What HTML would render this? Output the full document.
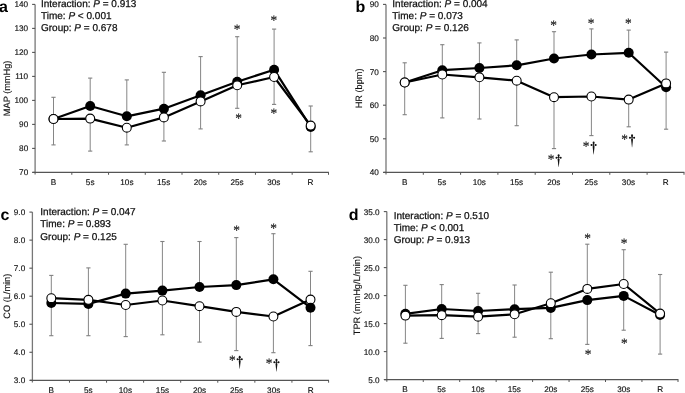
<!DOCTYPE html>
<html><head><meta charset="utf-8"><style>
html,body{margin:0;padding:0;background:#fff;width:685px;height:393px;overflow:hidden}
svg{display:block;will-change:transform}
text{font-family:"Liberation Sans", sans-serif;fill:#111;text-rendering:geometricPrecision}
.tk{font-size:8.2px;stroke:#111;stroke-width:0.15px}
.ti{font-size:9.2px;stroke:#111;stroke-width:0.15px}
.st{font-size:10px;fill:#111;stroke:#111;stroke-width:0.25px}
.lt{font-size:16px;font-weight:bold;fill:#000}
.ast{font-size:14.5px;fill:#1a1a1a;stroke:#1a1a1a;stroke-width:0.18px;font-family:"Liberation Serif",serif}
.dag{font-size:15px;fill:#111;stroke:#111;stroke-width:0.3px;font-family:"Liberation Serif",serif}
</style></head><body>
<svg width="685" height="393" viewBox="0 0 685 393">
<rect width="685" height="393" fill="#fff"/>
<line x1="35.1" y1="4.4" x2="35.1" y2="174.6" stroke="#777" stroke-width="1.3"/>
<line x1="32.1" y1="172.40" x2="35.1" y2="172.40" stroke="#555" stroke-width="1.1"/>
<text x="28.2" y="175.40" text-anchor="end" class="tk">70</text>
<line x1="32.1" y1="148.40" x2="35.1" y2="148.40" stroke="#555" stroke-width="1.1"/>
<text x="28.2" y="151.40" text-anchor="end" class="tk">80</text>
<line x1="32.1" y1="124.40" x2="35.1" y2="124.40" stroke="#555" stroke-width="1.1"/>
<text x="28.2" y="127.40" text-anchor="end" class="tk">90</text>
<line x1="32.1" y1="100.40" x2="35.1" y2="100.40" stroke="#555" stroke-width="1.1"/>
<text x="28.2" y="103.40" text-anchor="end" class="tk">100</text>
<line x1="32.1" y1="76.40" x2="35.1" y2="76.40" stroke="#555" stroke-width="1.1"/>
<text x="28.2" y="79.40" text-anchor="end" class="tk">110</text>
<line x1="32.1" y1="52.40" x2="35.1" y2="52.40" stroke="#555" stroke-width="1.1"/>
<text x="28.2" y="55.40" text-anchor="end" class="tk">120</text>
<line x1="32.1" y1="28.40" x2="35.1" y2="28.40" stroke="#555" stroke-width="1.1"/>
<text x="28.2" y="31.40" text-anchor="end" class="tk">130</text>
<line x1="32.1" y1="4.40" x2="35.1" y2="4.40" stroke="#555" stroke-width="1.1"/>
<text x="28.2" y="7.40" text-anchor="end" class="tk">140</text>
<line x1="32.6" y1="172.4" x2="328.9" y2="172.4" stroke="#555" stroke-width="1.3"/>
<line x1="71.82" y1="172.4" x2="71.82" y2="174.8" stroke="#555" stroke-width="1.0"/>
<line x1="108.55" y1="172.4" x2="108.55" y2="174.8" stroke="#555" stroke-width="1.0"/>
<line x1="145.27" y1="172.4" x2="145.27" y2="174.8" stroke="#555" stroke-width="1.0"/>
<line x1="182.00" y1="172.4" x2="182.00" y2="174.8" stroke="#555" stroke-width="1.0"/>
<line x1="218.72" y1="172.4" x2="218.72" y2="174.8" stroke="#555" stroke-width="1.0"/>
<line x1="255.45" y1="172.4" x2="255.45" y2="174.8" stroke="#555" stroke-width="1.0"/>
<line x1="292.17" y1="172.4" x2="292.17" y2="174.8" stroke="#555" stroke-width="1.0"/>
<line x1="328.50" y1="172.4" x2="328.50" y2="174.8" stroke="#555" stroke-width="1.0"/>
<text x="53.46" y="184.70" text-anchor="middle" class="tk">B</text>
<text x="90.19" y="184.70" text-anchor="middle" class="tk">5s</text>
<text x="126.91" y="184.70" text-anchor="middle" class="tk">10s</text>
<text x="163.64" y="184.70" text-anchor="middle" class="tk">15s</text>
<text x="200.36" y="184.70" text-anchor="middle" class="tk">20s</text>
<text x="237.09" y="184.70" text-anchor="middle" class="tk">25s</text>
<text x="273.81" y="184.70" text-anchor="middle" class="tk">30s</text>
<text x="310.54" y="184.70" text-anchor="middle" class="tk">R</text>
<text transform="translate(9.6,88.4) rotate(-90)" text-anchor="middle" class="ti">MAP (mmHg)</text>
<text x="-1.0" y="11.7" class="lt">a</text>
<text x="41.0" y="7.00" class="st">Interaction: <tspan font-style="italic">P</tspan> = 0.913</text>
<text x="41.0" y="19.10" class="st">Time: <tspan font-style="italic">P</tspan> &lt; 0.001</text>
<text x="41.0" y="31.20" class="st">Group: <tspan font-style="italic">P</tspan> = 0.678</text>
<line x1="53.5" y1="97.3" x2="53.5" y2="119.0" stroke="#808080" stroke-width="0.95"/>
<line x1="53.5" y1="119.0" x2="53.5" y2="144.9" stroke="#808080" stroke-width="0.95"/>
<line x1="51.4" y1="97.3" x2="55.6" y2="97.3" stroke="#808080" stroke-width="1.1"/>
<line x1="51.4" y1="144.9" x2="55.6" y2="144.9" stroke="#808080" stroke-width="1.1"/>
<line x1="90.2" y1="78.1" x2="90.2" y2="106.0" stroke="#808080" stroke-width="0.95"/>
<line x1="90.2" y1="118.6" x2="90.2" y2="151.1" stroke="#808080" stroke-width="0.95"/>
<line x1="88.10000000000001" y1="78.1" x2="92.3" y2="78.1" stroke="#808080" stroke-width="1.1"/>
<line x1="88.10000000000001" y1="151.1" x2="92.3" y2="151.1" stroke="#808080" stroke-width="1.1"/>
<line x1="126.8" y1="79.9" x2="126.8" y2="116.3" stroke="#808080" stroke-width="0.95"/>
<line x1="126.8" y1="127.7" x2="126.8" y2="144.9" stroke="#808080" stroke-width="0.95"/>
<line x1="124.7" y1="79.9" x2="128.9" y2="79.9" stroke="#808080" stroke-width="1.1"/>
<line x1="124.7" y1="144.9" x2="128.9" y2="144.9" stroke="#808080" stroke-width="1.1"/>
<line x1="163.89999999999998" y1="72.3" x2="163.89999999999998" y2="108.7" stroke="#808080" stroke-width="0.95"/>
<line x1="163.89999999999998" y1="117.4" x2="163.89999999999998" y2="141.0" stroke="#808080" stroke-width="0.95"/>
<line x1="161.79999999999998" y1="72.3" x2="165.99999999999997" y2="72.3" stroke="#808080" stroke-width="1.1"/>
<line x1="161.79999999999998" y1="141.0" x2="165.99999999999997" y2="141.0" stroke="#808080" stroke-width="1.1"/>
<line x1="200.6" y1="56.6" x2="200.6" y2="95.2" stroke="#808080" stroke-width="0.95"/>
<line x1="200.6" y1="101.4" x2="200.6" y2="128.9" stroke="#808080" stroke-width="0.95"/>
<line x1="198.5" y1="56.6" x2="202.7" y2="56.6" stroke="#808080" stroke-width="1.1"/>
<line x1="198.5" y1="128.9" x2="202.7" y2="128.9" stroke="#808080" stroke-width="1.1"/>
<line x1="237.2" y1="36.7" x2="237.2" y2="81.7" stroke="#808080" stroke-width="0.95"/>
<line x1="237.2" y1="85.3" x2="237.2" y2="108.3" stroke="#808080" stroke-width="0.95"/>
<line x1="235.1" y1="36.7" x2="239.29999999999998" y2="36.7" stroke="#808080" stroke-width="1.1"/>
<line x1="235.1" y1="108.3" x2="239.29999999999998" y2="108.3" stroke="#808080" stroke-width="1.1"/>
<line x1="274.09999999999997" y1="29.1" x2="274.09999999999997" y2="69.7" stroke="#808080" stroke-width="0.95"/>
<line x1="274.09999999999997" y1="77.0" x2="274.09999999999997" y2="104.4" stroke="#808080" stroke-width="0.95"/>
<line x1="271.99999999999994" y1="29.1" x2="276.2" y2="29.1" stroke="#808080" stroke-width="1.1"/>
<line x1="271.99999999999994" y1="104.4" x2="276.2" y2="104.4" stroke="#808080" stroke-width="1.1"/>
<line x1="310.7" y1="106.0" x2="310.7" y2="125.6" stroke="#808080" stroke-width="0.95"/>
<line x1="310.7" y1="126.9" x2="310.7" y2="151.8" stroke="#808080" stroke-width="0.95"/>
<line x1="308.59999999999997" y1="106.0" x2="312.8" y2="106.0" stroke="#808080" stroke-width="1.1"/>
<line x1="308.59999999999997" y1="151.8" x2="312.8" y2="151.8" stroke="#808080" stroke-width="1.1"/>
<polyline points="53.5,119.0 90.2,106.0 126.8,116.3 163.89999999999998,108.7 200.6,95.2 237.2,81.7 274.09999999999997,69.7 310.7,126.9" fill="none" stroke="#000" stroke-width="2.2" stroke-linejoin="round"/>
<polyline points="53.5,119.0 90.2,118.6 126.8,127.7 163.89999999999998,117.4 200.6,101.4 237.2,85.3 274.09999999999997,77.0 310.7,125.6" fill="none" stroke="#000" stroke-width="2.2" stroke-linejoin="round"/>
<circle cx="53.5" cy="119.0" r="5.0" fill="#000"/><circle cx="53.5" cy="119.0" r="4.45" fill="#fff" stroke="#000" stroke-width="1.1"/>
<circle cx="90.2" cy="106.0" r="5.0" fill="#000"/><circle cx="90.2" cy="118.6" r="4.45" fill="#fff" stroke="#000" stroke-width="1.1"/>
<circle cx="126.8" cy="116.3" r="5.0" fill="#000"/><circle cx="126.8" cy="127.7" r="4.45" fill="#fff" stroke="#000" stroke-width="1.1"/>
<circle cx="163.89999999999998" cy="108.7" r="5.0" fill="#000"/><circle cx="163.89999999999998" cy="117.4" r="4.45" fill="#fff" stroke="#000" stroke-width="1.1"/>
<circle cx="200.6" cy="95.2" r="5.0" fill="#000"/><circle cx="200.6" cy="101.4" r="4.45" fill="#fff" stroke="#000" stroke-width="1.1"/>
<circle cx="237.2" cy="81.7" r="5.0" fill="#000"/><circle cx="237.2" cy="85.3" r="4.45" fill="#fff" stroke="#000" stroke-width="1.1"/>
<circle cx="274.09999999999997" cy="69.7" r="5.0" fill="#000"/><circle cx="274.09999999999997" cy="77.0" r="4.45" fill="#fff" stroke="#000" stroke-width="1.1"/>
<circle cx="310.7" cy="126.9" r="5.0" fill="#000"/><circle cx="310.7" cy="125.6" r="4.45" fill="#fff" stroke="#000" stroke-width="1.1"/>
<text transform="translate(237.05,33.99) scale(0.92,1)" text-anchor="middle" class="ast">*</text>
<text transform="translate(273.75,24.99) scale(0.92,1)" text-anchor="middle" class="ast">*</text>
<text transform="translate(238.50,123.04) scale(0.92,1)" text-anchor="middle" class="ast">*</text>
<text transform="translate(273.85,117.99) scale(0.92,1)" text-anchor="middle" class="ast">*</text>
<line x1="386.0" y1="4.4" x2="386.0" y2="174.6" stroke="#777" stroke-width="1.3"/>
<line x1="383.0" y1="172.40" x2="386.0" y2="172.40" stroke="#555" stroke-width="1.1"/>
<text x="378.9" y="175.40" text-anchor="end" class="tk">40</text>
<line x1="383.0" y1="138.80" x2="386.0" y2="138.80" stroke="#555" stroke-width="1.1"/>
<text x="378.9" y="141.80" text-anchor="end" class="tk">50</text>
<line x1="383.0" y1="105.20" x2="386.0" y2="105.20" stroke="#555" stroke-width="1.1"/>
<text x="378.9" y="108.20" text-anchor="end" class="tk">60</text>
<line x1="383.0" y1="71.60" x2="386.0" y2="71.60" stroke="#555" stroke-width="1.1"/>
<text x="378.9" y="74.60" text-anchor="end" class="tk">70</text>
<line x1="383.0" y1="38.00" x2="386.0" y2="38.00" stroke="#555" stroke-width="1.1"/>
<text x="378.9" y="41.00" text-anchor="end" class="tk">80</text>
<line x1="383.0" y1="4.40" x2="386.0" y2="4.40" stroke="#555" stroke-width="1.1"/>
<text x="378.9" y="7.40" text-anchor="end" class="tk">90</text>
<line x1="383.5" y1="172.4" x2="684.4" y2="172.4" stroke="#555" stroke-width="1.3"/>
<line x1="423.30" y1="172.4" x2="423.30" y2="174.8" stroke="#555" stroke-width="1.0"/>
<line x1="460.60" y1="172.4" x2="460.60" y2="174.8" stroke="#555" stroke-width="1.0"/>
<line x1="497.90" y1="172.4" x2="497.90" y2="174.8" stroke="#555" stroke-width="1.0"/>
<line x1="535.20" y1="172.4" x2="535.20" y2="174.8" stroke="#555" stroke-width="1.0"/>
<line x1="572.50" y1="172.4" x2="572.50" y2="174.8" stroke="#555" stroke-width="1.0"/>
<line x1="609.80" y1="172.4" x2="609.80" y2="174.8" stroke="#555" stroke-width="1.0"/>
<line x1="647.10" y1="172.4" x2="647.10" y2="174.8" stroke="#555" stroke-width="1.0"/>
<line x1="684.00" y1="172.4" x2="684.00" y2="174.8" stroke="#555" stroke-width="1.0"/>
<text x="404.65" y="184.70" text-anchor="middle" class="tk">B</text>
<text x="441.95" y="184.70" text-anchor="middle" class="tk">5s</text>
<text x="479.25" y="184.70" text-anchor="middle" class="tk">10s</text>
<text x="516.55" y="184.70" text-anchor="middle" class="tk">15s</text>
<text x="553.85" y="184.70" text-anchor="middle" class="tk">20s</text>
<text x="591.15" y="184.70" text-anchor="middle" class="tk">25s</text>
<text x="628.45" y="184.70" text-anchor="middle" class="tk">30s</text>
<text x="665.75" y="184.70" text-anchor="middle" class="tk">R</text>
<text transform="translate(362.3,88.4) rotate(-90)" text-anchor="middle" class="ti">HR (bpm)</text>
<text x="355.4" y="11.8" class="lt">b</text>
<text x="392.3" y="7.00" class="st">Interaction: <tspan font-style="italic">P</tspan> = 0.004</text>
<text x="392.3" y="19.10" class="st">Time: <tspan font-style="italic">P</tspan> = 0.073</text>
<text x="392.3" y="31.20" class="st">Group: <tspan font-style="italic">P</tspan> = 0.126</text>
<line x1="404.7" y1="62.8" x2="404.7" y2="82.5" stroke="#808080" stroke-width="0.95"/>
<line x1="404.7" y1="82.5" x2="404.7" y2="114.7" stroke="#808080" stroke-width="0.95"/>
<line x1="402.59999999999997" y1="62.8" x2="406.8" y2="62.8" stroke="#808080" stroke-width="1.1"/>
<line x1="402.59999999999997" y1="114.7" x2="406.8" y2="114.7" stroke="#808080" stroke-width="1.1"/>
<line x1="442.3" y1="44.7" x2="442.3" y2="70.2" stroke="#808080" stroke-width="0.95"/>
<line x1="442.3" y1="74.5" x2="442.3" y2="117.9" stroke="#808080" stroke-width="0.95"/>
<line x1="440.2" y1="44.7" x2="444.40000000000003" y2="44.7" stroke="#808080" stroke-width="1.1"/>
<line x1="440.2" y1="117.9" x2="444.40000000000003" y2="117.9" stroke="#808080" stroke-width="1.1"/>
<line x1="479.40000000000003" y1="42.9" x2="479.40000000000003" y2="68.0" stroke="#808080" stroke-width="0.95"/>
<line x1="479.40000000000003" y1="77.3" x2="479.40000000000003" y2="119.0" stroke="#808080" stroke-width="0.95"/>
<line x1="477.3" y1="42.9" x2="481.50000000000006" y2="42.9" stroke="#808080" stroke-width="1.1"/>
<line x1="477.3" y1="119.0" x2="481.50000000000006" y2="119.0" stroke="#808080" stroke-width="1.1"/>
<line x1="516.6999999999999" y1="39.9" x2="516.6999999999999" y2="65.3" stroke="#808080" stroke-width="0.95"/>
<line x1="516.6999999999999" y1="80.7" x2="516.6999999999999" y2="125.7" stroke="#808080" stroke-width="0.95"/>
<line x1="514.5999999999999" y1="39.9" x2="518.8" y2="39.9" stroke="#808080" stroke-width="1.1"/>
<line x1="514.5999999999999" y1="125.7" x2="518.8" y2="125.7" stroke="#808080" stroke-width="1.1"/>
<line x1="554.0" y1="31.7" x2="554.0" y2="58.5" stroke="#808080" stroke-width="0.95"/>
<line x1="554.0" y1="97.2" x2="554.0" y2="148.6" stroke="#808080" stroke-width="0.95"/>
<line x1="551.9" y1="31.7" x2="556.1" y2="31.7" stroke="#808080" stroke-width="1.1"/>
<line x1="551.9" y1="148.6" x2="556.1" y2="148.6" stroke="#808080" stroke-width="1.1"/>
<line x1="591.4" y1="28.9" x2="591.4" y2="54.5" stroke="#808080" stroke-width="0.95"/>
<line x1="591.4" y1="96.5" x2="591.4" y2="135.6" stroke="#808080" stroke-width="0.95"/>
<line x1="589.3" y1="28.9" x2="593.5" y2="28.9" stroke="#808080" stroke-width="1.1"/>
<line x1="589.3" y1="135.6" x2="593.5" y2="135.6" stroke="#808080" stroke-width="1.1"/>
<line x1="628.6999999999999" y1="30.1" x2="628.6999999999999" y2="52.8" stroke="#808080" stroke-width="0.95"/>
<line x1="628.6999999999999" y1="99.6" x2="628.6999999999999" y2="126.8" stroke="#808080" stroke-width="0.95"/>
<line x1="626.5999999999999" y1="30.1" x2="630.8" y2="30.1" stroke="#808080" stroke-width="1.1"/>
<line x1="626.5999999999999" y1="126.8" x2="630.8" y2="126.8" stroke="#808080" stroke-width="1.1"/>
<line x1="666.0999999999999" y1="52.1" x2="666.0999999999999" y2="83.4" stroke="#808080" stroke-width="0.95"/>
<line x1="666.0999999999999" y1="87.3" x2="666.0999999999999" y2="129.2" stroke="#808080" stroke-width="0.95"/>
<line x1="663.9999999999999" y1="52.1" x2="668.1999999999999" y2="52.1" stroke="#808080" stroke-width="1.1"/>
<line x1="663.9999999999999" y1="129.2" x2="668.1999999999999" y2="129.2" stroke="#808080" stroke-width="1.1"/>
<polyline points="404.7,82.5 442.3,70.2 479.40000000000003,68.0 516.6999999999999,65.3 554.0,58.5 591.4,54.5 628.6999999999999,52.8 666.0999999999999,87.3" fill="none" stroke="#000" stroke-width="2.2" stroke-linejoin="round"/>
<polyline points="404.7,82.5 442.3,74.5 479.40000000000003,77.3 516.6999999999999,80.7 554.0,97.2 591.4,96.5 628.6999999999999,99.6 666.0999999999999,83.4" fill="none" stroke="#000" stroke-width="2.2" stroke-linejoin="round"/>
<circle cx="404.7" cy="82.5" r="5.0" fill="#000"/><circle cx="404.7" cy="82.5" r="4.45" fill="#fff" stroke="#000" stroke-width="1.1"/>
<circle cx="442.3" cy="70.2" r="5.0" fill="#000"/><circle cx="442.3" cy="74.5" r="4.45" fill="#fff" stroke="#000" stroke-width="1.1"/>
<circle cx="479.40000000000003" cy="68.0" r="5.0" fill="#000"/><circle cx="479.40000000000003" cy="77.3" r="4.45" fill="#fff" stroke="#000" stroke-width="1.1"/>
<circle cx="516.6999999999999" cy="65.3" r="5.0" fill="#000"/><circle cx="516.6999999999999" cy="80.7" r="4.45" fill="#fff" stroke="#000" stroke-width="1.1"/>
<circle cx="554.0" cy="58.5" r="5.0" fill="#000"/><circle cx="554.0" cy="97.2" r="4.45" fill="#fff" stroke="#000" stroke-width="1.1"/>
<circle cx="591.4" cy="54.5" r="5.0" fill="#000"/><circle cx="591.4" cy="96.5" r="4.45" fill="#fff" stroke="#000" stroke-width="1.1"/>
<circle cx="628.6999999999999" cy="52.8" r="5.0" fill="#000"/><circle cx="628.6999999999999" cy="99.6" r="4.45" fill="#fff" stroke="#000" stroke-width="1.1"/>
<circle cx="666.0999999999999" cy="87.3" r="5.0" fill="#000"/><circle cx="666.0999999999999" cy="83.4" r="4.45" fill="#fff" stroke="#000" stroke-width="1.1"/>
<text transform="translate(553.50,30.04) scale(0.92,1)" text-anchor="middle" class="ast">*</text>
<text transform="translate(591.10,27.84) scale(0.92,1)" text-anchor="middle" class="ast">*</text>
<text transform="translate(628.35,27.84) scale(0.92,1)" text-anchor="middle" class="ast">*</text>
<text transform="translate(551.20,163.64) scale(0.92,1)" text-anchor="middle" class="ast">*</text>
<g transform="translate(558.60,154.20)" fill="#111"><ellipse cx="0" cy="1.35" rx="1.0" ry="1.35"/><ellipse cx="-2.15" cy="3.5" rx="0.95" ry="0.95"/><ellipse cx="2.15" cy="3.5" rx="0.95" ry="0.95"/><rect x="-2.2" y="3.15" width="4.4" height="0.7"/><rect x="-0.4" y="1.5" width="0.8" height="3"/><path d="M-0.95,5.2 Q-0.9,4.3 0,4.2 Q0.9,4.3 0.95,5.2 L0.12,12.9 L-0.12,12.9 Z"/></g>
<text transform="translate(586.20,150.94) scale(0.92,1)" text-anchor="middle" class="ast">*</text>
<g transform="translate(593.60,141.50)" fill="#111"><ellipse cx="0" cy="1.35" rx="1.0" ry="1.35"/><ellipse cx="-2.15" cy="3.5" rx="0.95" ry="0.95"/><ellipse cx="2.15" cy="3.5" rx="0.95" ry="0.95"/><rect x="-2.2" y="3.15" width="4.4" height="0.7"/><rect x="-0.4" y="1.5" width="0.8" height="3"/><path d="M-0.95,5.2 Q-0.9,4.3 0,4.2 Q0.9,4.3 0.95,5.2 L0.12,12.9 L-0.12,12.9 Z"/></g>
<text transform="translate(624.65,143.74) scale(0.92,1)" text-anchor="middle" class="ast">*</text>
<g transform="translate(632.05,134.30)" fill="#111"><ellipse cx="0" cy="1.35" rx="1.0" ry="1.35"/><ellipse cx="-2.15" cy="3.5" rx="0.95" ry="0.95"/><ellipse cx="2.15" cy="3.5" rx="0.95" ry="0.95"/><rect x="-2.2" y="3.15" width="4.4" height="0.7"/><rect x="-0.4" y="1.5" width="0.8" height="3"/><path d="M-0.95,5.2 Q-0.9,4.3 0,4.2 Q0.9,4.3 0.95,5.2 L0.12,12.9 L-0.12,12.9 Z"/></g>
<line x1="32.4" y1="212.1" x2="32.4" y2="382.5" stroke="#777" stroke-width="1.3"/>
<line x1="29.4" y1="380.30" x2="32.4" y2="380.30" stroke="#555" stroke-width="1.1"/>
<text x="25.2" y="383.30" text-anchor="end" class="tk">3.0</text>
<line x1="29.4" y1="352.27" x2="32.4" y2="352.27" stroke="#555" stroke-width="1.1"/>
<text x="25.2" y="355.27" text-anchor="end" class="tk">4.0</text>
<line x1="29.4" y1="324.23" x2="32.4" y2="324.23" stroke="#555" stroke-width="1.1"/>
<text x="25.2" y="327.23" text-anchor="end" class="tk">5.0</text>
<line x1="29.4" y1="296.20" x2="32.4" y2="296.20" stroke="#555" stroke-width="1.1"/>
<text x="25.2" y="299.20" text-anchor="end" class="tk">6.0</text>
<line x1="29.4" y1="268.17" x2="32.4" y2="268.17" stroke="#555" stroke-width="1.1"/>
<text x="25.2" y="271.17" text-anchor="end" class="tk">7.0</text>
<line x1="29.4" y1="240.13" x2="32.4" y2="240.13" stroke="#555" stroke-width="1.1"/>
<text x="25.2" y="243.13" text-anchor="end" class="tk">8.0</text>
<line x1="29.4" y1="212.10" x2="32.4" y2="212.10" stroke="#555" stroke-width="1.1"/>
<text x="25.2" y="215.10" text-anchor="end" class="tk">9.0</text>
<line x1="29.9" y1="380.3" x2="329.0" y2="380.3" stroke="#555" stroke-width="1.3"/>
<line x1="69.47" y1="380.3" x2="69.47" y2="382.7" stroke="#555" stroke-width="1.0"/>
<line x1="106.55" y1="380.3" x2="106.55" y2="382.7" stroke="#555" stroke-width="1.0"/>
<line x1="143.62" y1="380.3" x2="143.62" y2="382.7" stroke="#555" stroke-width="1.0"/>
<line x1="180.70" y1="380.3" x2="180.70" y2="382.7" stroke="#555" stroke-width="1.0"/>
<line x1="217.78" y1="380.3" x2="217.78" y2="382.7" stroke="#555" stroke-width="1.0"/>
<line x1="254.85" y1="380.3" x2="254.85" y2="382.7" stroke="#555" stroke-width="1.0"/>
<line x1="291.93" y1="380.3" x2="291.93" y2="382.7" stroke="#555" stroke-width="1.0"/>
<line x1="328.60" y1="380.3" x2="328.60" y2="382.7" stroke="#555" stroke-width="1.0"/>
<text x="51.24" y="392.60" text-anchor="middle" class="tk">B</text>
<text x="88.31" y="392.60" text-anchor="middle" class="tk">5s</text>
<text x="125.39" y="392.60" text-anchor="middle" class="tk">10s</text>
<text x="162.46" y="392.60" text-anchor="middle" class="tk">15s</text>
<text x="199.54" y="392.60" text-anchor="middle" class="tk">20s</text>
<text x="236.61" y="392.60" text-anchor="middle" class="tk">25s</text>
<text x="273.69" y="392.60" text-anchor="middle" class="tk">30s</text>
<text x="310.76" y="392.60" text-anchor="middle" class="tk">R</text>
<text transform="translate(9.9,296.2) rotate(-90)" text-anchor="middle" class="ti">CO (L/min)</text>
<text x="0.4" y="219.6" class="lt">c</text>
<text x="40.3" y="215.00" class="st">Interaction: <tspan font-style="italic">P</tspan> = 0.047</text>
<text x="40.3" y="227.20" class="st">Time: <tspan font-style="italic">P</tspan> = 0.893</text>
<text x="40.3" y="239.60" class="st">Group: <tspan font-style="italic">P</tspan> = 0.125</text>
<line x1="51.3" y1="275.40000000000003" x2="51.3" y2="298.2" stroke="#808080" stroke-width="0.95"/>
<line x1="51.3" y1="303.0" x2="51.3" y2="335.7" stroke="#808080" stroke-width="0.95"/>
<line x1="49.199999999999996" y1="275.40000000000003" x2="53.4" y2="275.40000000000003" stroke="#808080" stroke-width="1.1"/>
<line x1="49.199999999999996" y1="335.7" x2="53.4" y2="335.7" stroke="#808080" stroke-width="1.1"/>
<line x1="88.4" y1="267.90000000000003" x2="88.4" y2="299.8" stroke="#808080" stroke-width="0.95"/>
<line x1="88.4" y1="303.90000000000003" x2="88.4" y2="335.7" stroke="#808080" stroke-width="0.95"/>
<line x1="86.30000000000001" y1="267.90000000000003" x2="90.5" y2="267.90000000000003" stroke="#808080" stroke-width="1.1"/>
<line x1="86.30000000000001" y1="335.7" x2="90.5" y2="335.7" stroke="#808080" stroke-width="1.1"/>
<line x1="125.7" y1="244.3" x2="125.7" y2="293.6" stroke="#808080" stroke-width="0.95"/>
<line x1="125.7" y1="305.0" x2="125.7" y2="336.6" stroke="#808080" stroke-width="0.95"/>
<line x1="123.60000000000001" y1="244.3" x2="127.8" y2="244.3" stroke="#808080" stroke-width="1.1"/>
<line x1="123.60000000000001" y1="336.6" x2="127.8" y2="336.6" stroke="#808080" stroke-width="1.1"/>
<line x1="162.4" y1="241.5" x2="162.4" y2="290.6" stroke="#808080" stroke-width="0.95"/>
<line x1="162.4" y1="300.5" x2="162.4" y2="334.8" stroke="#808080" stroke-width="0.95"/>
<line x1="160.3" y1="241.5" x2="164.5" y2="241.5" stroke="#808080" stroke-width="1.1"/>
<line x1="160.3" y1="334.8" x2="164.5" y2="334.8" stroke="#808080" stroke-width="1.1"/>
<line x1="199.5" y1="241.5" x2="199.5" y2="287.0" stroke="#808080" stroke-width="0.95"/>
<line x1="199.5" y1="306.2" x2="199.5" y2="342.1" stroke="#808080" stroke-width="0.95"/>
<line x1="197.4" y1="241.5" x2="201.6" y2="241.5" stroke="#808080" stroke-width="1.1"/>
<line x1="197.4" y1="342.1" x2="201.6" y2="342.1" stroke="#808080" stroke-width="1.1"/>
<line x1="236.3" y1="237.60000000000002" x2="236.3" y2="285.1" stroke="#808080" stroke-width="0.95"/>
<line x1="236.3" y1="311.90000000000003" x2="236.3" y2="350.6" stroke="#808080" stroke-width="0.95"/>
<line x1="234.20000000000002" y1="237.60000000000002" x2="238.4" y2="237.60000000000002" stroke="#808080" stroke-width="1.1"/>
<line x1="234.20000000000002" y1="350.6" x2="238.4" y2="350.6" stroke="#808080" stroke-width="1.1"/>
<line x1="273.4" y1="233.70000000000002" x2="273.4" y2="279.3" stroke="#808080" stroke-width="0.95"/>
<line x1="273.4" y1="316.5" x2="273.4" y2="352.7" stroke="#808080" stroke-width="0.95"/>
<line x1="271.29999999999995" y1="233.70000000000002" x2="275.5" y2="233.70000000000002" stroke="#808080" stroke-width="1.1"/>
<line x1="271.29999999999995" y1="352.7" x2="275.5" y2="352.7" stroke="#808080" stroke-width="1.1"/>
<line x1="310.5" y1="271.3" x2="310.5" y2="299.6" stroke="#808080" stroke-width="0.95"/>
<line x1="310.5" y1="307.7" x2="310.5" y2="345.6" stroke="#808080" stroke-width="0.95"/>
<line x1="308.4" y1="271.3" x2="312.6" y2="271.3" stroke="#808080" stroke-width="1.1"/>
<line x1="308.4" y1="345.6" x2="312.6" y2="345.6" stroke="#808080" stroke-width="1.1"/>
<polyline points="51.3,303.0 88.4,303.90000000000003 125.7,293.6 162.4,290.6 199.5,287.0 236.3,285.1 273.4,279.3 310.5,307.7" fill="none" stroke="#000" stroke-width="2.2" stroke-linejoin="round"/>
<polyline points="51.3,298.2 88.4,299.8 125.7,305.0 162.4,300.5 199.5,306.2 236.3,311.90000000000003 273.4,316.5 310.5,299.6" fill="none" stroke="#000" stroke-width="2.2" stroke-linejoin="round"/>
<circle cx="51.3" cy="303.0" r="5.0" fill="#000"/><circle cx="51.3" cy="298.2" r="4.45" fill="#fff" stroke="#000" stroke-width="1.1"/>
<circle cx="88.4" cy="303.90000000000003" r="5.0" fill="#000"/><circle cx="88.4" cy="299.8" r="4.45" fill="#fff" stroke="#000" stroke-width="1.1"/>
<circle cx="125.7" cy="293.6" r="5.0" fill="#000"/><circle cx="125.7" cy="305.0" r="4.45" fill="#fff" stroke="#000" stroke-width="1.1"/>
<circle cx="162.4" cy="290.6" r="5.0" fill="#000"/><circle cx="162.4" cy="300.5" r="4.45" fill="#fff" stroke="#000" stroke-width="1.1"/>
<circle cx="199.5" cy="287.0" r="5.0" fill="#000"/><circle cx="199.5" cy="306.2" r="4.45" fill="#fff" stroke="#000" stroke-width="1.1"/>
<circle cx="236.3" cy="285.1" r="5.0" fill="#000"/><circle cx="236.3" cy="311.90000000000003" r="4.45" fill="#fff" stroke="#000" stroke-width="1.1"/>
<circle cx="273.4" cy="279.3" r="5.0" fill="#000"/><circle cx="273.4" cy="316.5" r="4.45" fill="#fff" stroke="#000" stroke-width="1.1"/>
<circle cx="310.5" cy="299.6" r="4.45" fill="#fff" stroke="#000" stroke-width="1.1"/><circle cx="310.5" cy="307.7" r="5.0" fill="#000"/>
<text transform="translate(236.65,235.14) scale(0.92,1)" text-anchor="middle" class="ast">*</text>
<text transform="translate(273.55,232.84) scale(0.92,1)" text-anchor="middle" class="ast">*</text>
<text transform="translate(232.30,365.24) scale(0.92,1)" text-anchor="middle" class="ast">*</text>
<g transform="translate(239.70,355.80)" fill="#111"><ellipse cx="0" cy="1.35" rx="1.0" ry="1.35"/><ellipse cx="-2.15" cy="3.5" rx="0.95" ry="0.95"/><ellipse cx="2.15" cy="3.5" rx="0.95" ry="0.95"/><rect x="-2.2" y="3.15" width="4.4" height="0.7"/><rect x="-0.4" y="1.5" width="0.8" height="3"/><path d="M-0.95,5.2 Q-0.9,4.3 0,4.2 Q0.9,4.3 0.95,5.2 L0.12,12.9 L-0.12,12.9 Z"/></g>
<text transform="translate(269.05,368.14) scale(0.92,1)" text-anchor="middle" class="ast">*</text>
<g transform="translate(276.45,358.70)" fill="#111"><ellipse cx="0" cy="1.35" rx="1.0" ry="1.35"/><ellipse cx="-2.15" cy="3.5" rx="0.95" ry="0.95"/><ellipse cx="2.15" cy="3.5" rx="0.95" ry="0.95"/><rect x="-2.2" y="3.15" width="4.4" height="0.7"/><rect x="-0.4" y="1.5" width="0.8" height="3"/><path d="M-0.95,5.2 Q-0.9,4.3 0,4.2 Q0.9,4.3 0.95,5.2 L0.12,12.9 L-0.12,12.9 Z"/></g>
<line x1="386.8" y1="211.6" x2="386.8" y2="381.8" stroke="#777" stroke-width="1.3"/>
<line x1="383.8" y1="379.60" x2="386.8" y2="379.60" stroke="#555" stroke-width="1.1"/>
<text x="379.6" y="382.60" text-anchor="end" class="tk">5.0</text>
<line x1="383.8" y1="351.60" x2="386.8" y2="351.60" stroke="#555" stroke-width="1.1"/>
<text x="379.6" y="354.60" text-anchor="end" class="tk">10.0</text>
<line x1="383.8" y1="323.60" x2="386.8" y2="323.60" stroke="#555" stroke-width="1.1"/>
<text x="379.6" y="326.60" text-anchor="end" class="tk">15.0</text>
<line x1="383.8" y1="295.60" x2="386.8" y2="295.60" stroke="#555" stroke-width="1.1"/>
<text x="379.6" y="298.60" text-anchor="end" class="tk">20.0</text>
<line x1="383.8" y1="267.60" x2="386.8" y2="267.60" stroke="#555" stroke-width="1.1"/>
<text x="379.6" y="270.60" text-anchor="end" class="tk">25.0</text>
<line x1="383.8" y1="239.60" x2="386.8" y2="239.60" stroke="#555" stroke-width="1.1"/>
<text x="379.6" y="242.60" text-anchor="end" class="tk">30.0</text>
<line x1="383.8" y1="211.60" x2="386.8" y2="211.60" stroke="#555" stroke-width="1.1"/>
<text x="379.6" y="214.60" text-anchor="end" class="tk">35.0</text>
<line x1="384.3" y1="379.6" x2="678.4" y2="379.6" stroke="#555" stroke-width="1.3"/>
<line x1="423.25" y1="379.6" x2="423.25" y2="382.0" stroke="#555" stroke-width="1.0"/>
<line x1="459.70" y1="379.6" x2="459.70" y2="382.0" stroke="#555" stroke-width="1.0"/>
<line x1="496.15" y1="379.6" x2="496.15" y2="382.0" stroke="#555" stroke-width="1.0"/>
<line x1="532.60" y1="379.6" x2="532.60" y2="382.0" stroke="#555" stroke-width="1.0"/>
<line x1="569.05" y1="379.6" x2="569.05" y2="382.0" stroke="#555" stroke-width="1.0"/>
<line x1="605.50" y1="379.6" x2="605.50" y2="382.0" stroke="#555" stroke-width="1.0"/>
<line x1="641.95" y1="379.6" x2="641.95" y2="382.0" stroke="#555" stroke-width="1.0"/>
<line x1="678.00" y1="379.6" x2="678.00" y2="382.0" stroke="#555" stroke-width="1.0"/>
<text x="405.03" y="391.90" text-anchor="middle" class="tk">B</text>
<text x="441.48" y="391.90" text-anchor="middle" class="tk">5s</text>
<text x="477.93" y="391.90" text-anchor="middle" class="tk">10s</text>
<text x="514.38" y="391.90" text-anchor="middle" class="tk">15s</text>
<text x="550.83" y="391.90" text-anchor="middle" class="tk">20s</text>
<text x="587.27" y="391.90" text-anchor="middle" class="tk">25s</text>
<text x="623.73" y="391.90" text-anchor="middle" class="tk">30s</text>
<text x="660.17" y="391.90" text-anchor="middle" class="tk">R</text>
<text transform="translate(359.6,295.6) rotate(-90)" text-anchor="middle" class="ti">TPR (mmHg/L/min)</text>
<text x="348.8" y="219.5" class="lt">d</text>
<text x="393.7" y="218.90" class="st">Interaction: <tspan font-style="italic">P</tspan> = 0.510</text>
<text x="393.7" y="231.10" class="st">Time: <tspan font-style="italic">P</tspan> &lt; 0.001</text>
<text x="393.7" y="243.20" class="st">Group: <tspan font-style="italic">P</tspan> = 0.913</text>
<line x1="405.4" y1="285.3" x2="405.4" y2="313.8" stroke="#808080" stroke-width="0.95"/>
<line x1="405.4" y1="315.6" x2="405.4" y2="343.2" stroke="#808080" stroke-width="0.95"/>
<line x1="403.29999999999995" y1="285.3" x2="407.5" y2="285.3" stroke="#808080" stroke-width="1.1"/>
<line x1="403.29999999999995" y1="343.2" x2="407.5" y2="343.2" stroke="#808080" stroke-width="1.1"/>
<line x1="441.7" y1="284.6" x2="441.7" y2="309.0" stroke="#808080" stroke-width="0.95"/>
<line x1="441.7" y1="315.2" x2="441.7" y2="338.4" stroke="#808080" stroke-width="0.95"/>
<line x1="439.59999999999997" y1="284.6" x2="443.8" y2="284.6" stroke="#808080" stroke-width="1.1"/>
<line x1="439.59999999999997" y1="338.4" x2="443.8" y2="338.4" stroke="#808080" stroke-width="1.1"/>
<line x1="478.1" y1="293.3" x2="478.1" y2="311.0" stroke="#808080" stroke-width="0.95"/>
<line x1="478.1" y1="316.7" x2="478.1" y2="333.6" stroke="#808080" stroke-width="0.95"/>
<line x1="476.0" y1="293.3" x2="480.20000000000005" y2="293.3" stroke="#808080" stroke-width="1.1"/>
<line x1="476.0" y1="333.6" x2="480.20000000000005" y2="333.6" stroke="#808080" stroke-width="1.1"/>
<line x1="514.6" y1="285.0" x2="514.6" y2="309.2" stroke="#808080" stroke-width="0.95"/>
<line x1="514.6" y1="314.3" x2="514.6" y2="337.2" stroke="#808080" stroke-width="0.95"/>
<line x1="512.5" y1="285.0" x2="516.7" y2="285.0" stroke="#808080" stroke-width="1.1"/>
<line x1="512.5" y1="337.2" x2="516.7" y2="337.2" stroke="#808080" stroke-width="1.1"/>
<line x1="550.8" y1="272.2" x2="550.8" y2="303.2" stroke="#808080" stroke-width="0.95"/>
<line x1="550.8" y1="307.9" x2="550.8" y2="338.7" stroke="#808080" stroke-width="0.95"/>
<line x1="548.6999999999999" y1="272.2" x2="552.9" y2="272.2" stroke="#808080" stroke-width="1.1"/>
<line x1="548.6999999999999" y1="338.7" x2="552.9" y2="338.7" stroke="#808080" stroke-width="1.1"/>
<line x1="587.3" y1="244.2" x2="587.3" y2="288.9" stroke="#808080" stroke-width="0.95"/>
<line x1="587.3" y1="300.1" x2="587.3" y2="344.4" stroke="#808080" stroke-width="0.95"/>
<line x1="585.1999999999999" y1="244.2" x2="589.4" y2="244.2" stroke="#808080" stroke-width="1.1"/>
<line x1="585.1999999999999" y1="344.4" x2="589.4" y2="344.4" stroke="#808080" stroke-width="1.1"/>
<line x1="623.7" y1="249.7" x2="623.7" y2="284.0" stroke="#808080" stroke-width="0.95"/>
<line x1="623.7" y1="295.9" x2="623.7" y2="330.2" stroke="#808080" stroke-width="0.95"/>
<line x1="621.6" y1="249.7" x2="625.8000000000001" y2="249.7" stroke="#808080" stroke-width="1.1"/>
<line x1="621.6" y1="330.2" x2="625.8000000000001" y2="330.2" stroke="#808080" stroke-width="1.1"/>
<line x1="660.1" y1="274.5" x2="660.1" y2="313.6" stroke="#808080" stroke-width="0.95"/>
<line x1="660.1" y1="315.0" x2="660.1" y2="354.1" stroke="#808080" stroke-width="0.95"/>
<line x1="658.0" y1="274.5" x2="662.2" y2="274.5" stroke="#808080" stroke-width="1.1"/>
<line x1="658.0" y1="354.1" x2="662.2" y2="354.1" stroke="#808080" stroke-width="1.1"/>
<polyline points="405.4,313.8 441.7,309.0 478.1,311.0 514.6,309.2 550.8,307.9 587.3,300.1 623.7,295.9 660.1,315.0" fill="none" stroke="#000" stroke-width="2.2" stroke-linejoin="round"/>
<polyline points="405.4,315.6 441.7,315.2 478.1,316.7 514.6,314.3 550.8,303.2 587.3,288.9 623.7,284.0 660.1,313.6" fill="none" stroke="#000" stroke-width="2.2" stroke-linejoin="round"/>
<circle cx="405.4" cy="313.8" r="5.0" fill="#000"/><circle cx="405.4" cy="315.6" r="4.45" fill="#fff" stroke="#000" stroke-width="1.1"/>
<circle cx="441.7" cy="309.0" r="5.0" fill="#000"/><circle cx="441.7" cy="315.2" r="4.45" fill="#fff" stroke="#000" stroke-width="1.1"/>
<circle cx="478.1" cy="311.0" r="5.0" fill="#000"/><circle cx="478.1" cy="316.7" r="4.45" fill="#fff" stroke="#000" stroke-width="1.1"/>
<circle cx="514.6" cy="309.2" r="5.0" fill="#000"/><circle cx="514.6" cy="314.3" r="4.45" fill="#fff" stroke="#000" stroke-width="1.1"/>
<circle cx="550.8" cy="307.9" r="5.0" fill="#000"/><circle cx="550.8" cy="303.2" r="4.45" fill="#fff" stroke="#000" stroke-width="1.1"/>
<circle cx="587.3" cy="300.1" r="5.0" fill="#000"/><circle cx="587.3" cy="288.9" r="4.45" fill="#fff" stroke="#000" stroke-width="1.1"/>
<circle cx="623.7" cy="295.9" r="5.0" fill="#000"/><circle cx="623.7" cy="284.0" r="4.45" fill="#fff" stroke="#000" stroke-width="1.1"/>
<circle cx="660.1" cy="315.0" r="5.0" fill="#000"/><circle cx="660.1" cy="313.6" r="4.45" fill="#fff" stroke="#000" stroke-width="1.1"/>
<text transform="translate(587.55,242.84) scale(0.92,1)" text-anchor="middle" class="ast">*</text>
<text transform="translate(624.00,248.24) scale(0.92,1)" text-anchor="middle" class="ast">*</text>
<text transform="translate(588.00,358.84) scale(0.92,1)" text-anchor="middle" class="ast">*</text>
<text transform="translate(624.25,348.49) scale(0.92,1)" text-anchor="middle" class="ast">*</text>
</svg>
</body></html>
